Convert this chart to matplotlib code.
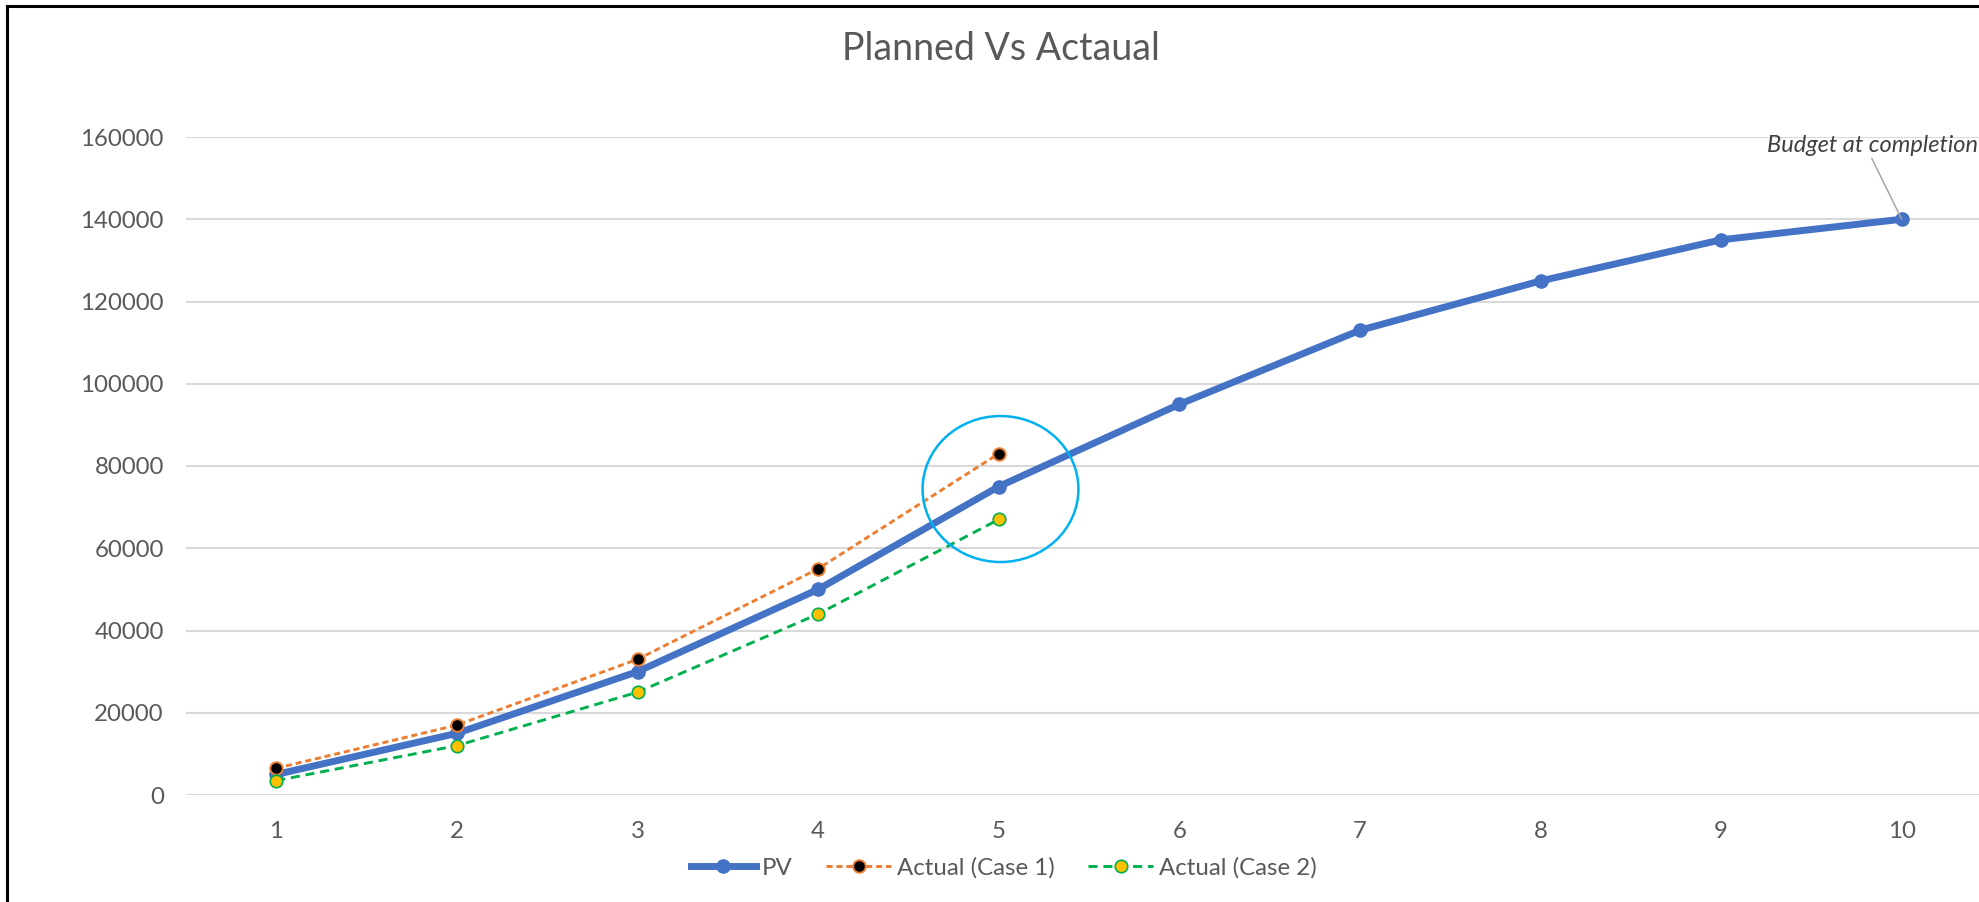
import numpy as np
import matplotlib.pyplot as plt
from matplotlib.lines import Line2D
from matplotlib.patches import Ellipse

plt.rcParams['font.family'] = ['Lato', 'DejaVu Sans']

# Périodes et valeurs cumulées
periods = [1, 2, 3, 4, 5, 6, 7, 8, 9, 10]
pv = [5000, 15000, 30000, 50000, 75000, 95000, 113000, 125000, 135000, 140000]
actual_case1 = [6500, 17000, 33000, 55000, 83000]
actual_case2 = [3500, 12000, 25000, 44000, 67000]
yticks = [0, 20000, 40000, 60000, 80000, 100000, 120000, 140000, 160000]

c_pv = "#4472C4"
c_case1 = "#ED7D31"
c_case2 = "#00B050"
c_text = "#595959"

# styles des séries
sty_pv = dict(color=c_pv, lw=5, marker="o", ms=9.5)
sty_c1 = dict(color=c_case1, lw=2.1, dashes=(2.1, 1.3), marker="o", ms=9,
              mfc="black", mec=c_case1, mew=1.4)
sty_c2 = dict(color=c_case2, lw=2.1, dashes=(3.1, 2.0), marker="o", ms=9,
              mfc="#FFC000", mec=c_case2, mew=1.2)

fig = plt.figure(figsize=(19.79, 9.02), dpi=100)
ax = fig.add_axes([186 / 1979, 1 - 795 / 902, (1992 - 186) / 1979, (795 - 137) / 902])

ax.plot(periods, pv, solid_capstyle="round", zorder=3, **sty_pv)
ax.plot(periods[:5], actual_case1, zorder=4, **sty_c1)
ax.plot(periods[:5], actual_case2, zorder=5, **sty_c2)

# cercle autour de la période 5
ax.add_patch(Ellipse((5.01, 74400), 0.863, 35500, fill=False,
                     ec="#00B0F0", lw=1.8, zorder=6))

ax.annotate("Budget at completion", xy=(periods[-1], pv[-1]),
            xytext=(1767, 902 - 145), textcoords="figure pixels",
            fontsize=17, style="italic", color="#404040", va="center", ha="left",
            arrowprops=dict(arrowstyle="-", color="#A6A6A6", lw=1.1,
                            shrinkA=0, shrinkB=0,
                            relpos=(0.49, 0)),
            annotation_clip=False)

ax.set_xlim(0.5, 10.5)
ax.set_ylim(0, 160000)
ax.set_xticks(periods)
ax.set_yticks(yticks)
ax.set_yticklabels([str(v) for v in yticks])
ax.grid(axis="y", color="#D9D9D9", lw=1.5)
ax.set_axisbelow(True)
for s in ax.spines.values():
    s.set_visible(False)
ax.tick_params(length=0, labelsize=17.3, colors=c_text)
ax.tick_params(axis="x", pad=19)
ax.tick_params(axis="y", pad=16)

fig.text(1001 / 1979, 1 - 49.5 / 902, "Planned Vs Actaual", fontsize=27,
         color=c_text, ha="center", va="center")

handles = [Line2D([], [], **sty_pv), Line2D([], [], **sty_c1), Line2D([], [], **sty_c2)]
leg = fig.legend(handles, ["PV", "Actual (Case 1)", "Actual (Case 2)"],
                 loc="center", bbox_to_anchor=(1004 / 1979, 1 - 868 / 902),
                 ncol=3, frameon=False, fontsize=17.3, handlelength=2.7,
                 handletextpad=0.25, columnspacing=1.4)
for t in leg.get_texts():
    t.set_color(c_text)

# bordure du graphique
fig.add_artist(Line2D([6.5 / 1979, 6.5 / 1979], [0, 1 - 5.5 / 902],
                      color="black", lw=2.2, transform=fig.transFigure))
fig.add_artist(Line2D([6.5 / 1979, 1], [1 - 5.5 / 902, 1 - 5.5 / 902],
                      color="black", lw=2.2, transform=fig.transFigure))

fig.savefig("out.png", dpi=100)
